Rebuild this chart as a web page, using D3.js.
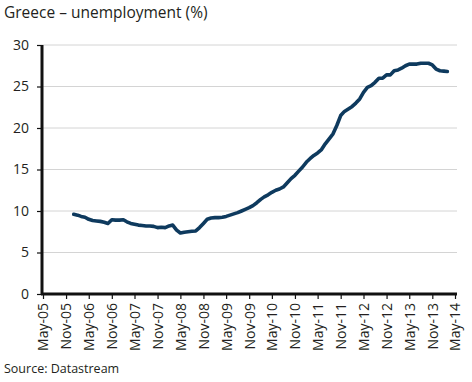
<!DOCTYPE html>
<html><head><meta charset="utf-8">
<script src="https://cdn.jsdelivr.net/npm/d3@7"></script>
<style>body{margin:0;background:#fff;}svg{display:block;font-family:"Open Sans","Noto Sans",sans-serif;}</style>
</head><body>
<svg id="c" width="472" height="382"></svg>
<script>
const title = "Greece – unemployment (%)";
const source = "Source: Datastream";
const startMonth = "2006-01"; // first observation
const values = [9.6,9.5,9.35,9.25,9.0,8.85,8.8,8.75,8.65,8.5,8.95,8.9,8.9,8.95,8.7,8.5,8.4,8.3,8.25,8.2,8.2,8.15,8.0,8.05,8.0,8.2,8.3,7.7,7.35,7.45,7.5,7.55,7.6,8.0,8.5,9.0,9.15,9.2,9.2,9.25,9.35,9.5,9.65,9.8,10.0,10.2,10.4,10.65,11.0,11.4,11.7,11.95,12.25,12.5,12.65,12.9,13.4,13.9,14.3,14.8,15.3,15.9,16.3,16.7,17.0,17.4,18.1,18.7,19.3,20.3,21.5,22.0,22.3,22.6,23.0,23.5,24.3,24.9,25.1,25.5,26.0,26.0,26.4,26.4,26.9,27.0,27.2,27.5,27.7,27.7,27.7,27.8,27.8,27.8,27.6,27.1,26.9,26.85,26.8];
const yTicks = [0,5,10,15,20,25,30];
const xTickStart = "2005-05", xTickEnd = "2014-05", xTickStepMonths = 6;

const parse = d3.timeParse("%Y-%m");
const t0 = parse(startMonth);
const data = values.map((v,i)=>({date:d3.timeMonth.offset(t0,i), v}));
const xTicks = d3.timeMonth.range(parse(xTickStart), d3.timeMonth.offset(parse(xTickEnd),1), xTickStepMonths);

const svg = d3.select("#c");
const L=42, R=455, T=45, B=294;
const x = d3.scaleTime().domain([parse(xTickStart), parse(xTickEnd)]).range([L+1,R]);
const y = d3.scaleLinear().domain([0,30]).range([B,T]);

svg.append("text").attr("x",4).attr("y",18).attr("font-size",15.5).attr("fill","#231f20").text(title);

// gridlines
svg.append("g").selectAll("line").data(yTicks.filter(d=>d>0)).join("line")
  .attr("x1",L).attr("x2",457).attr("y1",d=>y(d)).attr("y2",d=>y(d))
  .attr("stroke","#d4d4d4").attr("stroke-width",1);

// y axis
const ya = svg.append("g").attr("transform",`translate(${L},0)`)
  .call(d3.axisLeft(y).tickValues(yTicks).tickSize(5).tickPadding(8));
ya.select(".domain").attr("stroke","#111").attr("stroke-width",3).attr("d",`M0,${T}V${B}`);
ya.selectAll(".tick line").attr("stroke","#111").attr("stroke-width",1.2);
ya.selectAll("text").attr("font-size",14).attr("fill","#231f20").attr("font-family","'Open Sans','Noto Sans',sans-serif");

// x axis
const xa = svg.append("g").attr("transform",`translate(0,${B})`)
  .call(d3.axisBottom(x).tickValues(xTicks).tickFormat(d3.timeFormat("%b-%y")).tickSize(5).tickSizeOuter(0));
xa.select(".domain").attr("stroke","#111").attr("stroke-width",3).attr("d",`M${L-1},0H${R+2}`);
xa.selectAll(".tick line").attr("stroke","#111").attr("stroke-width",1.2);
xa.selectAll("text").attr("font-size",14).attr("fill","#231f20").attr("font-family","'Open Sans','Noto Sans',sans-serif")
  .attr("transform","rotate(-90)").attr("text-anchor","end").attr("dy","0.35em").attr("x",-9).attr("y",0);

// line
svg.append("path").datum(data)
  .attr("fill","none").attr("stroke","#0e3a5e").attr("stroke-width",3.6)
  .attr("stroke-linejoin","round").attr("stroke-linecap","round")
  .attr("d", d3.line().x(d=>x(d.date)).y(d=>y(d.v)));

svg.append("text").attr("x",4).attr("y",373).attr("font-size",12.5).attr("fill","#231f20").text(source);
</script>
</body></html>
